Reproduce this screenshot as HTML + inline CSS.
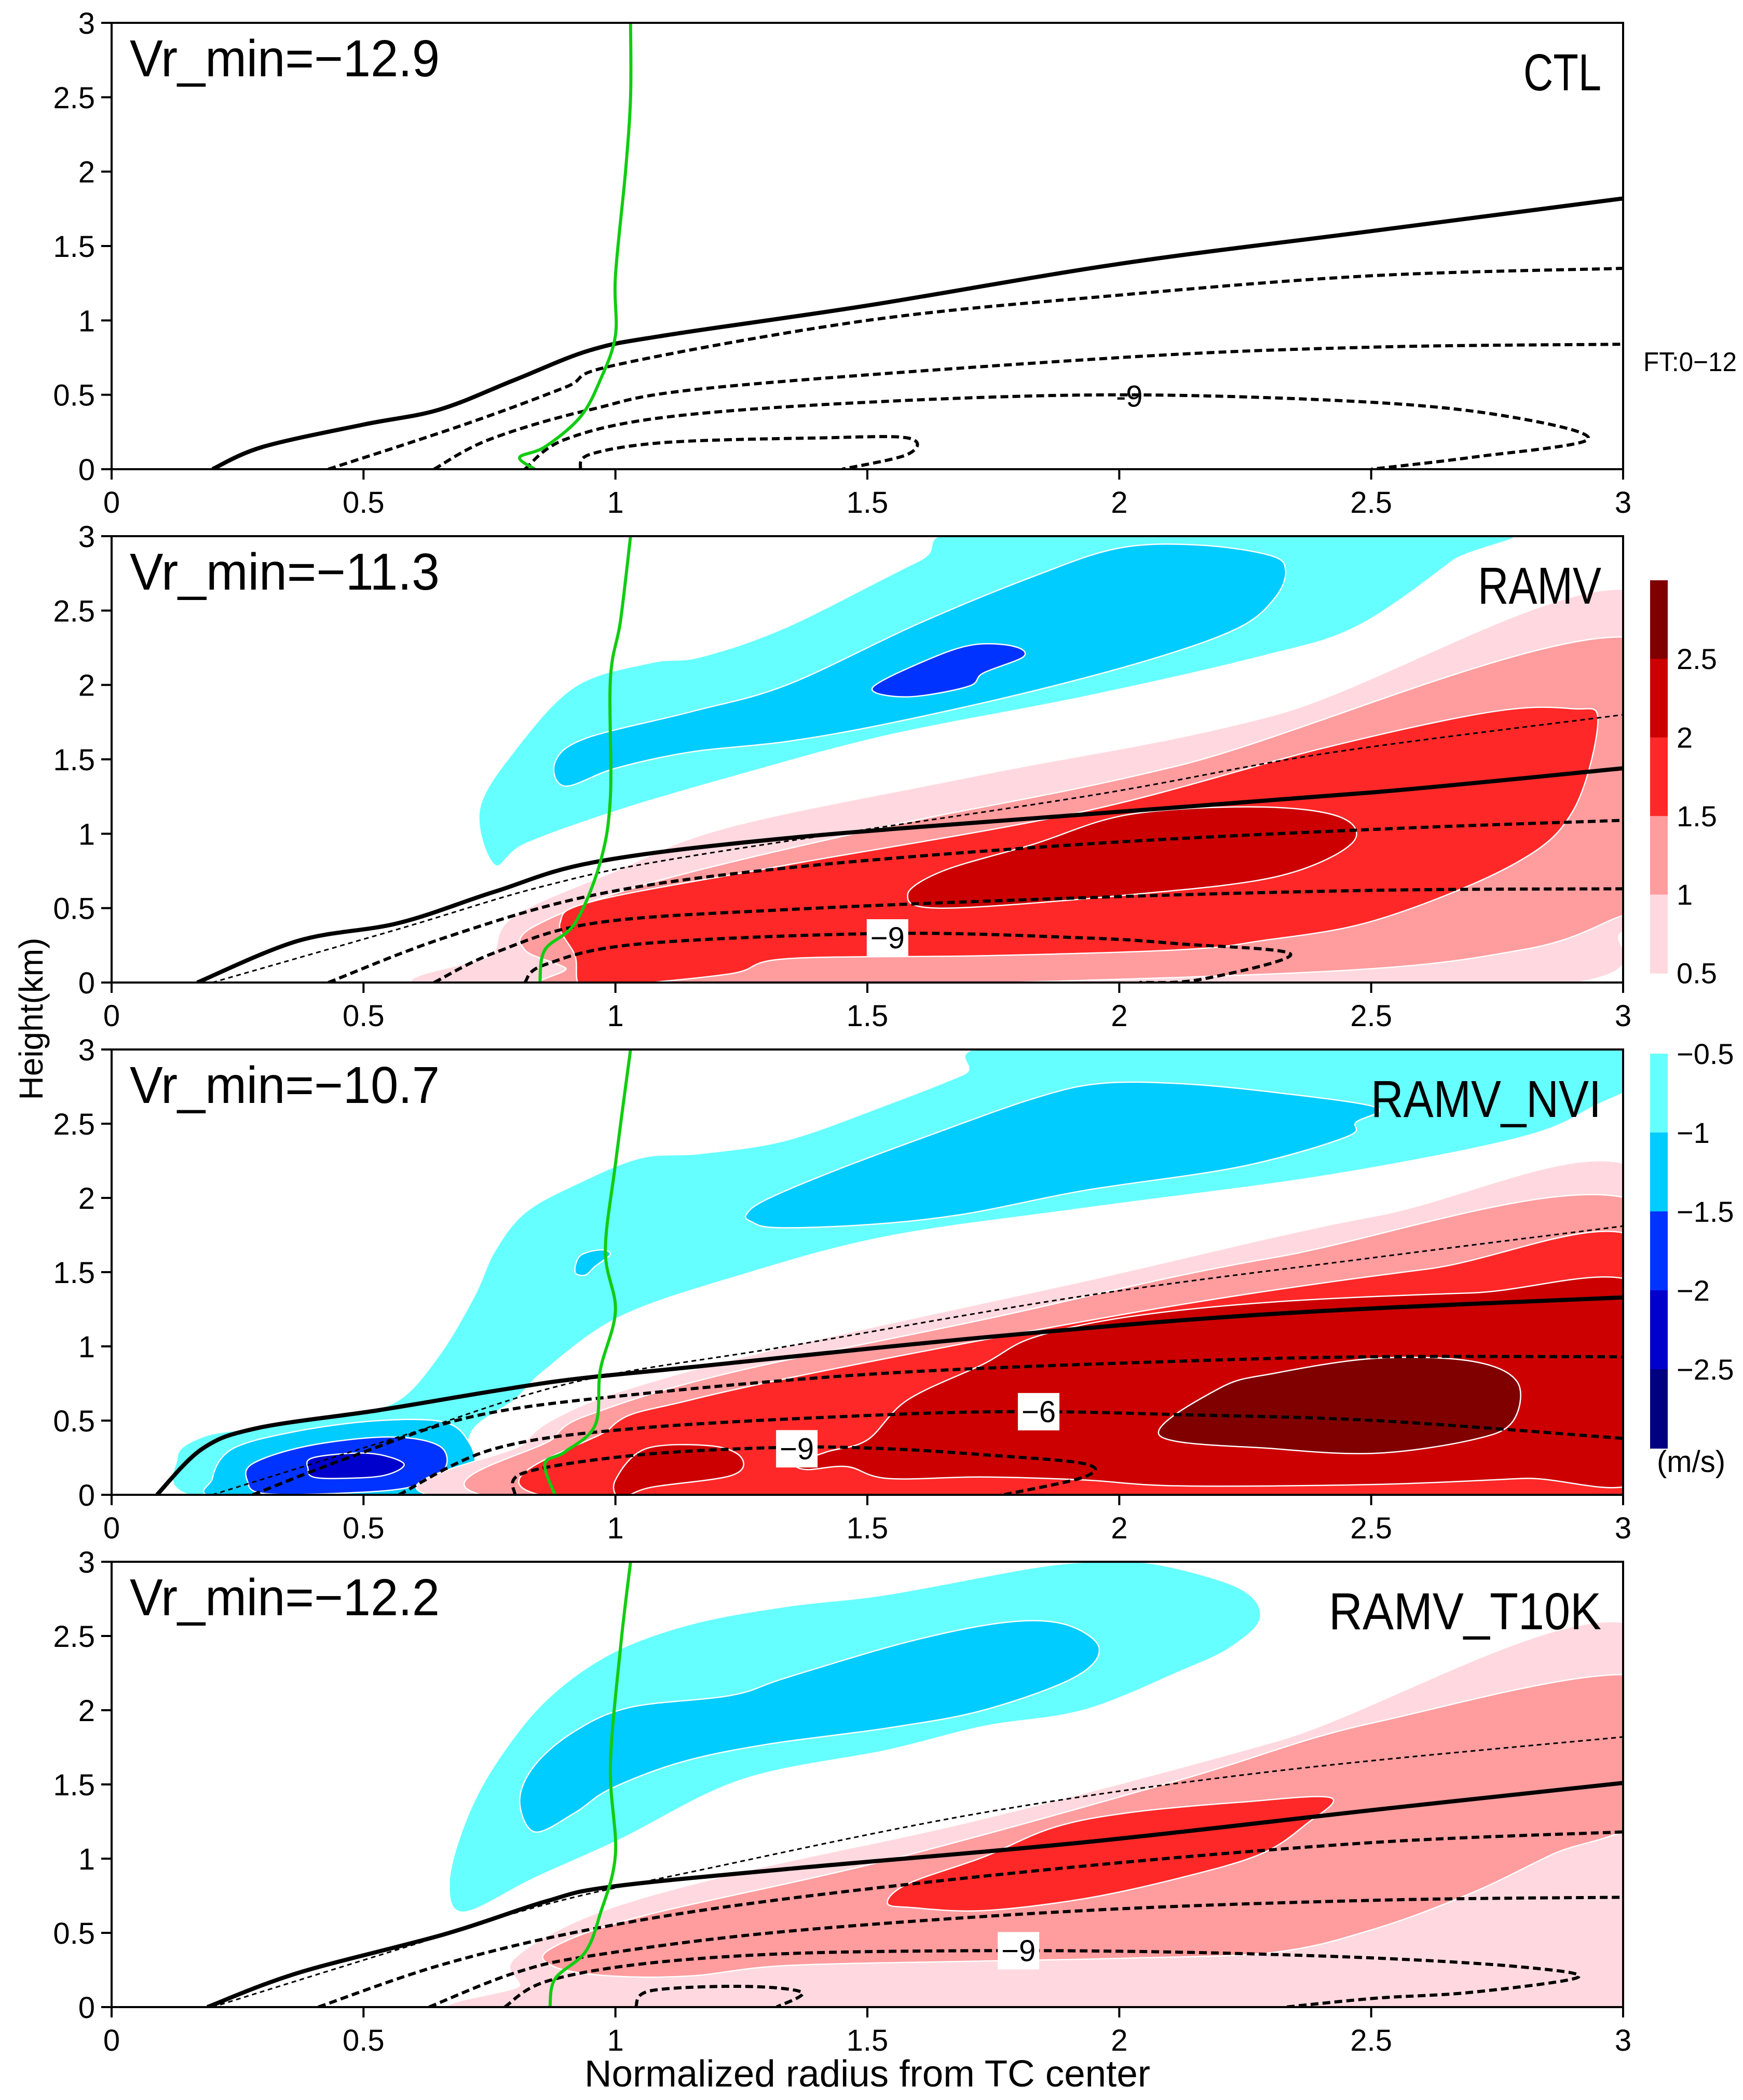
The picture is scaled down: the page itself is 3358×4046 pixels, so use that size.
<!DOCTYPE html>
<html><head><meta charset="utf-8">
<style>
html,body{margin:0;padding:0;background:#fff;}
svg{display:block;}
text{font-family:"Liberation Sans",sans-serif;fill:#000;}
</style></head>
<body>
<svg id="chart" width="3358" height="4046" viewBox="0 0 3358 4046" xmlns="http://www.w3.org/2000/svg">
<defs>
<clipPath id="c0"><rect x="215" y="44" width="2912" height="860"/></clipPath>
<clipPath id="c1"><rect x="215" y="1033" width="2912" height="860"/></clipPath>
<clipPath id="c2"><rect x="215" y="2022" width="2912" height="858"/></clipPath>
<clipPath id="c3"><rect x="215" y="3009" width="2912" height="858"/></clipPath>
</defs>
<g id="root"></g>
</svg>
<script>
// ---- data (r: normalized radius, z: height km) ----
const xTicks = [0,0.5,1,1.5,2,2.5,3];
const xTickLabels = ["0","0.5","1","1.5","2","2.5","3"];
const yTicks = [0,0.5,1,1.5,2,2.5,3];
const yTickLabels = ["0","0.5","1","1.5","2","2.5","3"];
const panelTitles = ["CTL","RAMV","RAMV_NVI","RAMV_T10K"];
const vrMin = ["-12.9","-11.3","-10.7","-12.2"];
const redLevels = ["2.5","2","1.5","1","0.5"];
const blueLevels = ["\u22120.5","\u22121","\u22121.5","\u22122","\u22122.5"];

// Panel 1 CTL
const p1Solid = [[0.2,0],[0.3,0.15],[0.5,0.3],[0.65,0.4],[0.8,0.6],[0.95,0.8],[1.1,0.9],[1.5,1.1],[2,1.38],[2.5,1.6],[3,1.82]];
const p1D1 = [[0.43,0],[0.7,0.3],[0.9,0.55],[1.0,0.7],[1.5,1.0],[2,1.17],[2.5,1.3],[3,1.35]];
const p1D2 = [[0.64,0],[0.75,0.2],[0.95,0.4],[1.2,0.55],[2,0.75],[2.5,0.82],[3,0.84]];
const p1D3 = [[0.82,0],[0.9,0.2],[1.1,0.35],[1.5,0.45],[2,0.5],[2.5,0.45],[2.78,0.35],[2.93,0.2],[2.7,0.08],[2.5,0]];
const p1D4 = [[0.93,0],[0.95,0.1],[1.1,0.18],[1.4,0.21],[1.58,0.21],[1.58,0.1],[1.45,0]];
const p1Green = [[0.84,0],[0.81,0.08],[0.86,0.15],[0.93,0.35],[0.97,0.6],[1.0,0.9],[1.0,1.3],[1.02,2.0],[1.03,2.5],[1.03,3]];

// Panel 2 RAMV
const p2Cyan1 = [[0.76,0.79],[0.73,1.16],[0.8,1.56],[0.92,1.99],[1.07,2.15],[1.17,2.19],[1.34,2.39],[1.6,2.83],[1.75,3.05],[2.73,3.05],[2.66,2.83],[2.47,2.39],[2.28,2.19],[1.93,1.92],[1.54,1.66],[1.23,1.38],[1.0,1.15],[0.82,0.93]];
const p2Cyan2 = [[0.9,1.32],[0.88,1.48],[0.94,1.64],[1.15,1.82],[1.34,2.0],[1.6,2.41],[1.83,2.73],[2.0,2.92],[2.16,2.94],[2.3,2.87],[2.33,2.77],[2.31,2.59],[2.24,2.39],[2.08,2.19],[1.83,1.96],[1.54,1.74],[1.34,1.62],[1.15,1.55],[1.0,1.44]];
const p2Blue = [[1.51,1.98],[1.62,2.17],[1.71,2.27],[1.79,2.26],[1.81,2.19],[1.73,2.08],[1.7,1.99],[1.58,1.92]];
const p2Pink = [[0.74,-0.05],[0.76,0.2],[0.8,0.45],[1.0,0.75],[1.23,1.05],[1.73,1.4],[2.31,1.8],[3.05,2.6],[3.05,0.34],[3,0.34],[2.76,-0.05]];
const p2Salmon = [[0.82,0.22],[0.84,0.38],[1.07,0.67],[1.54,1.05],[2.12,1.46],[3.05,2.3],[3.05,0.45],[3,0.45],[2.8,0.22],[2.32,0.06],[0.96,-0.05],[0.9,0.1]];
const p2Red = [[0.89,0.4],[0.96,0.55],[1.34,0.79],[1.93,1.15],[2.41,1.58],[2.74,1.82],[2.9,1.84],[2.95,1.76],[2.9,1.15],[2.78,0.79],[2.51,0.42],[2.28,0.28],[2.12,0.22],[1.73,0.18],[1.34,0.16],[1.23,0.06],[1.0,-0.02],[0.93,-0.02],[0.92,0.18]];
const p2DRed = [[1.58,0.59],[1.65,0.75],[1.83,0.93],[2.02,1.13],[2.28,1.18],[2.44,1.11],[2.46,0.93],[2.31,0.71],[2.02,0.59],[1.65,0.5]];
const p2Solid = [[0.17,0],[0.37,0.28],[0.57,0.4],[0.76,0.61],[0.96,0.81],[1.34,0.97],[1.93,1.13],[2.51,1.28],[3,1.44]];
const p2Thin = [[0.2,0],[0.57,0.36],[0.86,0.65],[1.15,0.85],[1.93,1.25],[2.41,1.54],[3,1.8]];
const p2D1 = [[0.43,0],[0.66,0.3],[0.96,0.59],[1.34,0.77],[1.93,0.93],[2.51,1.03],[3,1.09]];
const p2D2 = [[0.64,0],[0.76,0.2],[0.96,0.4],[1.34,0.49],[1.93,0.57],[2.51,0.62],[3,0.63]];
const p2D3 = [[0.82,0],[0.86,0.12],[1.05,0.26],[1.54,0.33],[1.93,0.3],[2.12,0.26],[2.34,0.19],[2.16,0.02],[2.04,0]];
const p2Green = [[0.85,0],[0.86,0.22],[0.92,0.4],[0.97,0.81],[0.99,1.25],[0.99,2.04],[1.01,2.43],[1.03,3]];

// Panel 3 RAMV_NVI
const p3Cyan1 = [[1.83,3.05],[3.05,3.05],[3.05,2.81],[2.95,2.63],[2.8,2.41],[2.41,2.15],[1.93,1.93],[1.54,1.74],[1.25,1.48],[1.01,1.2],[0.86,0.84],[0.8,0.64],[0.72,0.45],[0.7,0.21],[0.68,-0.02],[0.18,-0.02],[0.13,0.25],[0.18,0.39],[0.28,0.45],[0.47,0.55],[0.57,0.64],[0.65,0.94],[0.72,1.34],[0.76,1.64],[0.82,1.9],[0.92,2.09],[1.05,2.27],[1.17,2.3],[1.34,2.39],[1.54,2.63],[1.69,2.83]];
const p3Cyan2 = [[1.27,1.84],[1.26,1.89],[1.3,1.99],[1.44,2.19],[1.63,2.43],[1.83,2.67],[1.96,2.77],[2.12,2.77],[2.31,2.71],[2.51,2.61],[2.47,2.51],[2.45,2.41],[2.24,2.21],[1.93,2.05],[1.69,1.89],[1.5,1.82],[1.32,1.8]];
const p3Cyan3 = [[0.92,1.5],[0.93,1.61],[0.97,1.65],[0.99,1.62],[0.96,1.54],[0.94,1.48]];
const p3Cyan4 = [[0.2,0.11],[0.24,0.31],[0.37,0.43],[0.53,0.5],[0.66,0.49],[0.71,0.35],[0.72,0.17],[0.68,0.05],[0.61,-0.02],[0.22,-0.02]];
const p3Blue = [[0.27,0.09],[0.28,0.21],[0.39,0.33],[0.55,0.39],[0.65,0.33],[0.66,0.17],[0.59,0.05],[0.45,0.01],[0.3,0.01]];
const p3DBlue = [[0.39,0.17],[0.4,0.25],[0.51,0.28],[0.58,0.21],[0.54,0.13],[0.45,0.11],[0.4,0.12]];
const p3Pink = [[0.76,-0.05],[0.82,0.35],[0.9,0.55],[1.05,0.74],[1.34,1.0],[1.93,1.44],[2.51,1.88],[3.05,2.14],[3.05,-0.05]];
const p3Salmon = [[0.86,-0.05],[0.88,0.39],[0.99,0.59],[1.25,0.84],[1.73,1.18],[2.31,1.6],[3.05,1.94],[3.05,-0.05]];
const p3Red = [[0.96,-0.05],[0.99,0.45],[1.15,0.64],[1.54,0.92],[2.12,1.28],[2.61,1.52],[3.05,1.68],[3.05,-0.05]];
const p3DRed = [[1.5,0.37],[1.58,0.64],[1.73,0.88],[1.83,1.06],[2.02,1.2],[2.31,1.3],[2.7,1.36],[3.05,1.38],[3.05,0.15],[2.8,0.11],[2.51,0.07],[2.12,0.06],[1.93,0.1],[1.73,0.12],[1.54,0.11],[1.46,0.19],[1.38,0.17],[1.36,0.21],[1.42,0.29]];
const p3DRed2 = [[1.06,0.31],[1.19,0.33],[1.25,0.25],[1.23,0.13],[1.07,0.05],[1.01,-0.02],[1.0,0.1]];
const p3Darkest = [[2.08,0.4],[2.2,0.72],[2.31,0.82],[2.51,0.92],[2.7,0.9],[2.79,0.76],[2.78,0.49],[2.7,0.37],[2.51,0.28],[2.31,0.31]];
const p3Solid = [[0.09,0],[0.18,0.31],[0.29,0.45],[0.53,0.57],[0.76,0.7],[0.92,0.78],[1.15,0.86],[1.73,1.06],[2.31,1.22],[3,1.33]];
const p3Thin = [[0.2,0],[0.57,0.39],[0.92,0.76],[1.34,1.0],[1.93,1.34],[2.51,1.6],[3,1.81]];
const p3D1 = [[0.28,0],[0.47,0.25],[0.72,0.53],[1.05,0.68],[1.54,0.82],[2.12,0.9],[2.51,0.93],[3,0.93]];
const p3D2 = [[0.57,0],[0.76,0.31],[1.05,0.45],[1.54,0.54],[1.83,0.56],[2.12,0.54],[2.51,0.5],[3,0.38]];
const p3D3 = [[0.8,0],[0.82,0.15],[1.05,0.27],[1.34,0.32],[1.54,0.31],[1.73,0.27],[1.93,0.21],[1.93,0.12],[1.77,0]];
const p3Green = [[0.88,0],[0.86,0.21],[0.9,0.29],[0.96,0.47],[0.97,0.84],[1.0,1.24],[0.98,1.64],[1.0,2.23],[1.03,3]];

// Panel 4 RAMV_T10K
const p4Cyan1 = [[0.7,0.64],[0.67,0.83],[0.7,1.23],[0.76,1.63],[0.86,2.06],[0.99,2.38],[1.15,2.58],[1.34,2.7],[1.54,2.78],[1.83,2.96],[1.96,3.0],[2.08,2.98],[2.24,2.82],[2.28,2.62],[2.22,2.42],[2.12,2.26],[1.93,2.0],[1.73,1.89],[1.54,1.73],[1.25,1.53],[1.01,1.13],[0.84,0.87]];
const p4Cyan2 = [[0.84,1.18],[0.81,1.39],[0.84,1.63],[0.92,1.86],[1.03,2.02],[1.23,2.1],[1.34,2.22],[1.58,2.46],[1.77,2.59],[1.89,2.58],[1.96,2.42],[1.91,2.22],[1.73,2.0],[1.54,1.88],[1.3,1.77],[1.13,1.65],[0.99,1.47],[0.92,1.31]];
const p4Pink = [[0.84,-0.05],[0.81,0.15],[0.8,0.33],[0.96,0.63],[1.25,0.91],[1.73,1.27],[2.31,1.79],[3.05,2.53],[3.05,-0.05]];
const p4Salmon = [[0.88,0.27],[0.87,0.39],[1.05,0.61],[1.54,0.99],[2.12,1.53],[2.51,1.92],[3.05,2.22],[3.05,1.33],[2.86,1.03],[2.7,0.77],[2.51,0.53],[2.31,0.37],[2.02,0.33],[1.73,0.31],[1.34,0.28],[1.15,0.21],[0.99,0.21]];
const p4Red = [[1.54,0.7],[1.58,0.83],[1.73,1.01],[1.87,1.21],[2.02,1.31],[2.24,1.38],[2.42,1.41],[2.37,1.23],[2.28,1.03],[2.12,0.87],[1.93,0.73],[1.73,0.65],[1.59,0.67]];
const p4Solid = [[0.19,0],[0.37,0.23],[0.66,0.49],[0.86,0.71],[0.99,0.81],[1.34,0.93],[1.93,1.11],[2.51,1.33],[3,1.51]];
const p4Thin = [[0.2,0],[0.57,0.39],[0.86,0.69],[1.15,0.91],[1.73,1.31],[2.31,1.59],[3,1.82]];
const p4D1 = [[0.41,0],[0.66,0.29],[0.96,0.53],[1.34,0.73],[1.93,0.95],[2.51,1.11],[3,1.18]];
const p4D2 = [[0.63,0],[0.8,0.23],[0.96,0.35],[1.34,0.51],[1.93,0.65],[2.51,0.72],[3,0.74]];
const p4D3 = [[0.78,0],[0.86,0.17],[1.05,0.29],[1.34,0.36],[1.73,0.38],[2.12,0.37],[2.51,0.33],[2.8,0.27],[2.91,0.2],[2.7,0.1],[2.51,0.06],[2.33,0]];
const p4D4 = [[1.04,0],[1.07,0.11],[1.25,0.14],[1.37,0.1],[1.32,0]];
const p4Green = [[0.87,0],[0.88,0.19],[0.94,0.37],[0.97,0.63],[1.0,1.03],[0.99,1.63],[1.01,2.42],[1.03,3]];

const labelPos = [[[2.02,0.49,"-9"]],[[1.54,0.3,"\u22129"]],[[1.84,0.56,"\u22126"],[1.36,0.31,"\u22129"]],[[1.8,0.38,"\u22129"]]];

// ---- layout / style ----
const X0 = 215, X1 = 3127;
const TOPS = [44,1033,2022,3009], BOTS = [904,1893,2880,3867];
const C = {lc:"#66ffff",mc:"#00ccff",bl:"#0033ff",db:"#0000cc",nv:"#000080",pk:"#ffd9df",sa:"#ff9c9e",rd:"#ff2828",dr:"#cc0000",dk:"#800000"};
const fills = [
  [],
  [[p2Cyan1,C.lc],[p2Cyan2,C.mc],[p2Blue,C.bl],[p2Pink,C.pk],[p2Salmon,C.sa],[p2Red,C.rd],[p2DRed,C.dr]],
  [[p3Cyan1,C.lc],[p3Cyan2,C.mc],[p3Cyan3,C.mc],[p3Cyan4,C.mc],[p3Blue,C.bl],[p3DBlue,C.db],[p3Pink,C.pk],[p3Salmon,C.sa],[p3Red,C.rd],[p3DRed,C.dr],[p3DRed2,C.dr],[p3Darkest,C.dk]],
  [[p4Cyan1,C.lc],[p4Cyan2,C.mc],[p4Pink,C.pk],[p4Salmon,C.sa],[p4Red,C.rd]]
];
const thinLines = [[],[p2Thin],[p3Thin],[p4Thin]];
const dashLines = [[p1D1,p1D2,p1D3,p1D4],[p2D1,p2D2,p2D3],[p3D1,p3D2,p3D3],[p4D1,p4D2,p4D3,p4D4]];
const solidLines = [p1Solid,p2Solid,p3Solid,p4Solid];
const greenLines = [p1Green,p2Green,p3Green,p4Green];

const NS = "http://www.w3.org/2000/svg";
const root = document.getElementById("root");
function xs(r){return X0 + r/3*(X1-X0);}
function ysFor(i){return z => BOTS[i] - z/3*(BOTS[i]-TOPS[i]);}
function mk(tag, attrs, parent){const e=document.createElementNS(NS,tag);for(const k in attrs)e.setAttribute(k,attrs[k]);(parent||root).appendChild(e);return e;}
function smooth(pts, closed){
  const n=pts.length; if(n<2) return "";
  const P=i=>closed?pts[(i+n)%n]:pts[Math.max(0,Math.min(n-1,i))];
  let d="M"+pts[0][0].toFixed(1)+","+pts[0][1].toFixed(1);
  const last = closed?n:n-1;
  for(let i=0;i<last;i++){
    const p0=P(i-1),p1=P(i),p2=P(i+1),p3=P(i+2);
    const c1=[p1[0]+(p2[0]-p0[0])/6,p1[1]+(p2[1]-p0[1])/6];
    const c2=[p2[0]-(p3[0]-p1[0])/6,p2[1]-(p3[1]-p1[1])/6];
    d+=" C"+c1[0].toFixed(1)+","+c1[1].toFixed(1)+" "+c2[0].toFixed(1)+","+c2[1].toFixed(1)+" "+p2[0].toFixed(1)+","+p2[1].toFixed(1);
  }
  return d+(closed?" Z":"");
}

for(let i=0;i<4;i++){
  const ys = ysFor(i);
  const proj = arr => arr.map(p=>[xs(p[0]),ys(p[1])]);
  const g = mk("g",{"clip-path":"url(#c"+i+")"});
  
  
  fills[i].forEach((f,k)=>{
    const e=mk("path",{d:smooth(proj(f[0]),true),fill:f[1],stroke:"#ffffff","stroke-width":2.5},g);
    
    
  });
  thinLines[i].forEach(l=>{
    const e=mk("path",{d:smooth(proj(l),false),fill:"none",stroke:"#000","stroke-width":3,"stroke-dasharray":"9 7"},g);
    
    
  });
  dashLines[i].forEach(l=>{
    const e=mk("path",{d:smooth(proj(l),false),fill:"none",stroke:"#000","stroke-width":6,"stroke-dasharray":"15 8"},g);
    
    
  });
  let e=mk("path",{d:smooth(proj(solidLines[i]),false),fill:"none",stroke:"#000","stroke-width":8},g);
  
  
  e=mk("path",{d:smooth(proj(greenLines[i]),false),fill:"none",stroke:"#11cc11","stroke-width":6},g);
  
  
  labelPos[i].forEach(lp=>{
    const cx=xs(lp[0]), cy=ys(lp[1]);
    if(i>0){const b=mk("rect",{x:cx-40,y:cy-36,width:80,height:72,fill:"#fff"},g);
      
      }
    const t=mk("text",{x:cx,y:cy+20,"text-anchor":"middle","font-size":58},g);
    t.textContent=lp[2];
    
    
  });
  e=mk("rect",{x:X0,y:TOPS[i],width:X1-X0,height:BOTS[i]-TOPS[i],fill:"none",stroke:"#000","stroke-width":4});
  
  
  yTicks.forEach((v,k)=>{
    const y=ys(v);
    const tk=mk("line",{x1:X0-20,x2:X0,y1:y,y2:y,stroke:"#000","stroke-width":4});
    
    
    const t=mk("text",{x:X0-32,y:y+21,"text-anchor":"end","font-size":58});
    t.textContent=yTickLabels[k];
    
    
  });
  xTicks.forEach((v,k)=>{
    const x=xs(v);
    const tk=mk("line",{x1:x,x2:x,y1:BOTS[i],y2:BOTS[i]+20,stroke:"#000","stroke-width":4});
    
    
    const t=mk("text",{x:x,y:BOTS[i]+84,"text-anchor":"middle","font-size":58});
    t.textContent=xTickLabels[k];
    
    
  });
  let t=mk("text",{x:250,y:TOPS[i]+103,"font-size":100,textLength:597,lengthAdjust:"spacingAndGlyphs"});
  t.textContent="Vr_min="+vrMin[i].replace("-","\u2212");
  
  
  const tw=[150,238,444,525][i];
  t=mk("text",{x:3085-tw,y:TOPS[i]+130,"font-size":100,textLength:tw,lengthAdjust:"spacingAndGlyphs"});
  t.textContent=panelTitles[i];
  
  
}

let ft=mk("text",{x:3166,y:715,"font-size":52,textLength:180,lengthAdjust:"spacingAndGlyphs"});
ft.textContent="FT:0\u221212";



const redCols=[C.dk,C.dr,C.rd,C.sa,C.pk];
const blueCols=[C.lc,C.mc,C.bl,C.db,C.nv];
redCols.forEach((c,k)=>{
  const r=mk("rect",{x:3179,y:1118+k*151.4,width:34,height:152,fill:c});
  
  
});
redLevels.forEach((s,k)=>{
  const t=mk("text",{x:3230,y:1269+k*151.4+20,"font-size":56});
  t.textContent=s;
  
  
});
blueCols.forEach((c,k)=>{
  const r=mk("rect",{x:3179,y:2030+k*152,width:34,height:153,fill:c});
  
  
});
blueLevels.forEach((s,k)=>{
  const t=mk("text",{x:3230,y:2030+k*152+20,"font-size":56});
  t.textContent=s;
  
  
});
let u=mk("text",{x:3258,y:2836,"text-anchor":"middle","font-size":58});
u.textContent="(m/s)";



let yt=mk("text",{x:0,y:0,"text-anchor":"middle","font-size":64,transform:"translate(82,1963) rotate(-90)"});
yt.textContent="Height(km)";


let xt=mk("text",{x:1671,y:4020,"text-anchor":"middle","font-size":72,textLength:1090,lengthAdjust:"spacingAndGlyphs"});
xt.textContent="Normalized radius from TC center";


</script>
</body></html>
